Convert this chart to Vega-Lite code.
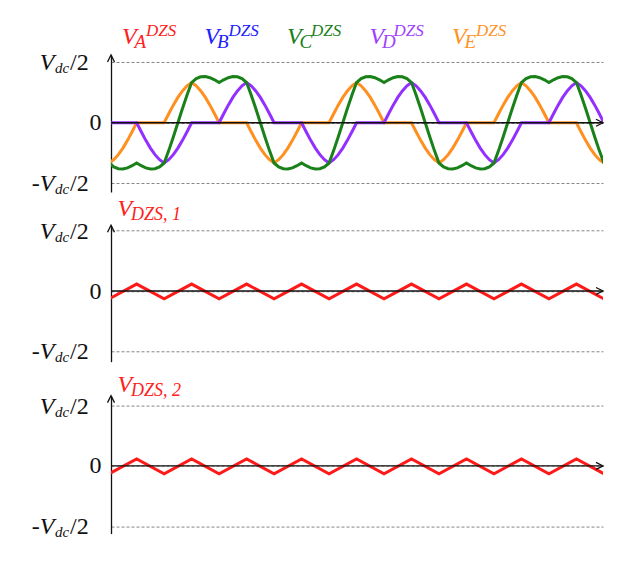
{
  "$schema": "https://vega.github.io/schema/vega-lite/v6.json",
  "background": "white",
  "padding": {"left": 31, "top": 20.7, "right": 5, "bottom": 5},
  "bounds": "flush",
  "spacing": 33.3,
  "config": {"view": {"stroke": null}, "text": {"font": "Liberation Serif"}},
  "datasets": {
    "wave": [
      {"t": -60, "E": -0.665, "D": 0, "C": -0.665},
      {"t": -50, "E": -0.61, "D": 0, "C": -0.73},
      {"t": -40, "E": -0.527, "D": 0, "C": -0.76},
      {"t": -30, "E": -0.419, "D": 0, "C": -0.765},
      {"t": -20, "E": -0.291, "D": 0, "C": -0.745},
      {"t": -10, "E": -0.149, "D": 0, "C": -0.71},
      {"t": 0, "E": 0, "D": 0, "C": -0.665},
      {"t": 10, "E": 0, "D": -0.149, "C": -0.71},
      {"t": 20, "E": 0, "D": -0.291, "C": -0.745},
      {"t": 30, "E": 0, "D": -0.419, "C": -0.765},
      {"t": 40, "E": 0, "D": -0.527, "C": -0.76},
      {"t": 50, "E": 0, "D": -0.61, "C": -0.73},
      {"t": 60, "E": 0, "D": -0.665, "C": -0.665},
      {"t": 70, "E": 0.149, "D": -0.61, "C": -0.46},
      {"t": 80, "E": 0.291, "D": -0.527, "C": -0.235},
      {"t": 90, "E": 0.419, "D": -0.419, "C": 0},
      {"t": 100, "E": 0.527, "D": -0.291, "C": 0.235},
      {"t": 110, "E": 0.61, "D": -0.149, "C": 0.46},
      {"t": 120, "E": 0.665, "D": 0, "C": 0.665},
      {"t": 130, "E": 0.61, "D": 0, "C": 0.73},
      {"t": 140, "E": 0.527, "D": 0, "C": 0.76},
      {"t": 150, "E": 0.419, "D": 0, "C": 0.765},
      {"t": 160, "E": 0.291, "D": 0, "C": 0.745},
      {"t": 170, "E": 0.149, "D": 0, "C": 0.71},
      {"t": 180, "E": 0, "D": 0, "C": 0.665},
      {"t": 190, "E": 0, "D": 0.149, "C": 0.71},
      {"t": 200, "E": 0, "D": 0.291, "C": 0.745},
      {"t": 210, "E": 0, "D": 0.419, "C": 0.765},
      {"t": 220, "E": 0, "D": 0.527, "C": 0.76},
      {"t": 230, "E": 0, "D": 0.61, "C": 0.73},
      {"t": 240, "E": 0, "D": 0.665, "C": 0.665},
      {"t": 250, "E": -0.149, "D": 0.61, "C": 0.46},
      {"t": 260, "E": -0.291, "D": 0.527, "C": 0.235},
      {"t": 270, "E": -0.419, "D": 0.419, "C": 0},
      {"t": 280, "E": -0.527, "D": 0.291, "C": -0.235},
      {"t": 290, "E": -0.61, "D": 0.149, "C": -0.46},
      {"t": 300, "E": -0.665, "D": 0, "C": -0.665},
      {"t": 310, "E": -0.61, "D": 0, "C": -0.73},
      {"t": 320, "E": -0.527, "D": 0, "C": -0.76},
      {"t": 330, "E": -0.419, "D": 0, "C": -0.765},
      {"t": 340, "E": -0.291, "D": 0, "C": -0.745},
      {"t": 350, "E": -0.149, "D": 0, "C": -0.71},
      {"t": 360, "E": 0, "D": 0, "C": -0.665},
      {"t": 370, "E": 0, "D": -0.149, "C": -0.71},
      {"t": 380, "E": 0, "D": -0.291, "C": -0.745},
      {"t": 390, "E": 0, "D": -0.419, "C": -0.765},
      {"t": 400, "E": 0, "D": -0.527, "C": -0.76},
      {"t": 410, "E": 0, "D": -0.61, "C": -0.73},
      {"t": 420, "E": 0, "D": -0.665, "C": -0.665},
      {"t": 430, "E": 0.149, "D": -0.61, "C": -0.46},
      {"t": 440, "E": 0.291, "D": -0.527, "C": -0.235},
      {"t": 450, "E": 0.419, "D": -0.419, "C": 0},
      {"t": 460, "E": 0.527, "D": -0.291, "C": 0.235},
      {"t": 470, "E": 0.61, "D": -0.149, "C": 0.46},
      {"t": 480, "E": 0.665, "D": 0, "C": 0.665},
      {"t": 490, "E": 0.61, "D": 0, "C": 0.73},
      {"t": 500, "E": 0.527, "D": 0, "C": 0.76},
      {"t": 510, "E": 0.419, "D": 0, "C": 0.765},
      {"t": 520, "E": 0.291, "D": 0, "C": 0.745},
      {"t": 530, "E": 0.149, "D": 0, "C": 0.71},
      {"t": 540, "E": 0, "D": 0, "C": 0.665},
      {"t": 550, "E": 0, "D": 0.149, "C": 0.71},
      {"t": 560, "E": 0, "D": 0.291, "C": 0.745},
      {"t": 570, "E": 0, "D": 0.419, "C": 0.765},
      {"t": 580, "E": 0, "D": 0.527, "C": 0.76},
      {"t": 590, "E": 0, "D": 0.61, "C": 0.73},
      {"t": 600, "E": 0, "D": 0.665, "C": 0.665},
      {"t": 610, "E": -0.149, "D": 0.61, "C": 0.46},
      {"t": 620, "E": -0.291, "D": 0.527, "C": 0.235},
      {"t": 630, "E": -0.419, "D": 0.419, "C": 0},
      {"t": 640, "E": -0.527, "D": 0.291, "C": -0.235},
      {"t": 650, "E": -0.61, "D": 0.149, "C": -0.46},
      {"t": 660, "E": -0.665, "D": 0, "C": -0.665},
      {"t": 670, "E": -0.61, "D": 0, "C": -0.73},
      {"t": 680, "E": -0.527, "D": 0, "C": -0.76},
      {"t": 690, "E": -0.419, "D": 0, "C": -0.765},
      {"t": 700, "E": -0.291, "D": 0, "C": -0.745},
      {"t": 710, "E": -0.149, "D": 0, "C": -0.71},
      {"t": 720, "E": 0, "D": 0, "C": -0.665},
      {"t": 730, "E": 0, "D": -0.149, "C": -0.71},
      {"t": 740, "E": 0, "D": -0.291, "C": -0.745},
      {"t": 750, "E": 0, "D": -0.419, "C": -0.765},
      {"t": 760, "E": 0, "D": -0.527, "C": -0.76},
      {"t": 770, "E": 0, "D": -0.61, "C": -0.73},
      {"t": 780, "E": 0, "D": -0.665, "C": -0.665},
      {"t": 790, "E": 0.149, "D": -0.61, "C": -0.46},
      {"t": 800, "E": 0.291, "D": -0.527, "C": -0.235},
      {"t": 810, "E": 0.419, "D": -0.419, "C": 0},
      {"t": 820, "E": 0.527, "D": -0.291, "C": 0.235},
      {"t": 830, "E": 0.61, "D": -0.149, "C": 0.46},
      {"t": 840, "E": 0.665, "D": 0, "C": 0.665},
      {"t": 850, "E": 0.61, "D": 0, "C": 0.73},
      {"t": 860, "E": 0.527, "D": 0, "C": 0.76},
      {"t": 870, "E": 0.419, "D": 0, "C": 0.765},
      {"t": 880, "E": 0.291, "D": 0, "C": 0.745},
      {"t": 890, "E": 0.149, "D": 0, "C": 0.71},
      {"t": 900, "E": 0, "D": 0, "C": 0.665},
      {"t": 910, "E": 0, "D": 0.149, "C": 0.71},
      {"t": 920, "E": 0, "D": 0.291, "C": 0.745},
      {"t": 930, "E": 0, "D": 0.419, "C": 0.765},
      {"t": 940, "E": 0, "D": 0.527, "C": 0.76},
      {"t": 950, "E": 0, "D": 0.61, "C": 0.73},
      {"t": 960, "E": 0, "D": 0.665, "C": 0.665},
      {"t": 970, "E": -0.149, "D": 0.61, "C": 0.46},
      {"t": 980, "E": -0.291, "D": 0.527, "C": 0.235},
      {"t": 990, "E": -0.419, "D": 0.419, "C": 0},
      {"t": 1000, "E": -0.527, "D": 0.291, "C": -0.235},
      {"t": 1010, "E": -0.61, "D": 0.149, "C": -0.46},
      {"t": 1020, "E": -0.665, "D": 0, "C": -0.665}
    ],
    "dzs": [
      {"t": -60, "v": -0.13},
      {"t": 0, "v": 0.115},
      {"t": 60, "v": -0.13},
      {"t": 120, "v": 0.115},
      {"t": 180, "v": -0.13},
      {"t": 240, "v": 0.115},
      {"t": 300, "v": -0.13},
      {"t": 360, "v": 0.115},
      {"t": 420, "v": -0.13},
      {"t": 480, "v": 0.115},
      {"t": 540, "v": -0.13},
      {"t": 600, "v": 0.115},
      {"t": 660, "v": -0.13},
      {"t": 720, "v": 0.115},
      {"t": 780, "v": -0.13},
      {"t": 840, "v": 0.115},
      {"t": 900, "v": -0.13},
      {"t": 960, "v": 0.115},
      {"t": 1020, "v": -0.13}
    ],
    "ticks": [
      {"v": 1, "lead": "V"},
      {"v": -1, "lead": "-V"}
    ],
    "phases": [
      {"ph": "A"}, {"ph": "B"}, {"ph": "C"}, {"ph": "D"}, {"ph": "E"}
    ]
  },
  "vconcat": [
    {
      "width": 352,
      "height": 1,
      "data": {"name": "phases"},
      "encoding": {
        "x": {"field": "ph", "type": "nominal", "scale": {"type": "point", "range": [11, 341], "padding": 0}, "axis": null},
        "y": {"datum": 0, "scale": {"domain": [0, 1]}, "axis": null},
        "color": {"field": "ph", "type": "nominal", "scale": {"domain": ["A", "B", "C", "D", "E"], "range": ["#ff2020", "#2020ff", "#1a801a", "#a040ff", "#ff9226"]}, "legend": null}
      },
      "layer": [
        {"mark": {"type": "text", "align": "left", "baseline": "alphabetic", "dy": 22.6, "fontSize": 24, "fontStyle": "italic", "text": "V"}},
        {"mark": {"type": "text", "align": "left", "baseline": "alphabetic", "dx": 12.5, "dy": 26.6, "fontSize": 19, "fontStyle": "italic"}, "encoding": {"text": {"field": "ph"}}},
        {"mark": {"type": "text", "align": "left", "baseline": "alphabetic", "dx": 24, "dy": 14, "fontSize": 17, "fontStyle": "italic", "text": "DZS"}}
      ]
    },
    {
      "width": 492,
      "height": 137,
      "layer": [
        {
          "data": {"name": "wave"},
          "mark": {"type": "line", "color": "#ff8f1f", "strokeWidth": 3, "clip": true},
          "encoding": {
            "x": {"field": "t", "type": "quantitative", "scale": {"domain": [-56, 1018], "nice": false, "zero": false}, "axis": null},
            "y": {
              "field": "E", "type": "quantitative",
              "scale": {"domain": [-1.144, 1.12], "nice": false, "zero": false},
              "axis": {
                "values": [-1, 0, 1], "title": null, "grid": true, "gridColor": "#666", "gridDash": [3, 2], "gridWidth": 0.8,
                "ticks": false, "tickSize": 0, "domainColor": "#111", "domainWidth": 1.3,
                "labelExpr": "datum.value == 0 ? '0' : ''", "labelFont": "Liberation Serif", "labelFontSize": 24,
                "labelColor": "#111", "labelPadding": 10
              }
            }
          }
        },
        {
          "data": {"name": "wave"},
          "mark": {"type": "line", "color": "#9430ff", "strokeWidth": 3, "clip": true},
          "encoding": {
            "x": {"field": "t", "type": "quantitative"},
            "y": {"field": "D", "type": "quantitative"}
          }
        },
        {
          "data": {"name": "wave"},
          "mark": {"type": "line", "color": "#1a801a", "strokeWidth": 3, "clip": true},
          "encoding": {
            "x": {"field": "t", "type": "quantitative"},
            "y": {"field": "C", "type": "quantitative"}
          }
        },
        {
          "data": {"values": [{}]},
          "mark": {"type": "rule", "color": "#111", "strokeWidth": 1.3},
          "encoding": {"y": {"datum": 0}}
        },
        {
          "data": {"values": [{}]},
          "mark": {"type": "point", "shape": "M-0.7,1.4L0,0L0.7,1.4", "size": 100, "filled": false, "stroke": "#111", "strokeWidth": 1.3, "opacity": 1},
          "encoding": {"x": {"datum": -56}, "y": {"datum": 1.12}}
        },
        {
          "data": {"values": [{}]},
          "mark": {"type": "point", "shape": "M-1.4,-0.7L0,0L-1.4,0.7", "size": 100, "filled": false, "stroke": "#111", "strokeWidth": 1.3, "opacity": 1},
          "encoding": {"x": {"datum": 1018}, "y": {"datum": 0}}
        },
        {
          "data": {"name": "ticks"},
          "mark": {"type": "text", "align": "right", "baseline": "alphabetic", "dx": -56.7, "dy": 8, "fontSize": 24, "fontStyle": "italic", "color": "#111"},
          "encoding": {"x": {"datum": -56}, "y": {"field": "v", "type": "quantitative"}, "text": {"field": "lead"}}
        },
        {
          "data": {"name": "ticks"},
          "mark": {"type": "text", "align": "left", "baseline": "alphabetic", "dx": -56, "dy": 11, "fontSize": 15, "fontStyle": "italic", "color": "#111", "text": "dc"},
          "encoding": {"x": {"datum": -56}, "y": {"field": "v", "type": "quantitative"}}
        },
        {
          "data": {"name": "ticks"},
          "mark": {"type": "text", "align": "left", "baseline": "alphabetic", "dx": -41, "dy": 8, "fontSize": 24, "color": "#111", "text": "/2"},
          "encoding": {"x": {"datum": -56}, "y": {"field": "v", "type": "quantitative"}}
        }
      ]
    },
    {
      "width": 492,
      "height": 136.4,
      "layer": [
        {
          "data": {"name": "dzs"},
          "mark": {"type": "line", "color": "#ff1a1a", "strokeWidth": 3, "clip": true},
          "encoding": {
            "x": {"field": "t", "type": "quantitative", "scale": {"domain": [-56, 1018], "nice": false, "zero": false}, "axis": null},
            "y": {
              "field": "v", "type": "quantitative",
              "scale": {"domain": [-1.172, 1.0896], "nice": false, "zero": false},
              "axis": {
                "values": [-1, 0, 1], "title": null, "grid": true, "gridColor": "#666", "gridDash": [3, 2], "gridWidth": 0.8,
                "ticks": false, "tickSize": 0, "domainColor": "#111", "domainWidth": 1.3,
                "labelExpr": "datum.value == 0 ? '0' : ''", "labelFont": "Liberation Serif", "labelFontSize": 24,
                "labelColor": "#111", "labelPadding": 10
              }
            }
          }
        },
        {
          "data": {"values": [{}]},
          "mark": {"type": "rule", "color": "#111", "strokeWidth": 1.3},
          "encoding": {"y": {"datum": 0}}
        },
        {
          "data": {"values": [{}]},
          "mark": {"type": "point", "shape": "M-0.7,1.4L0,0L0.7,1.4", "size": 100, "filled": false, "stroke": "#111", "strokeWidth": 1.3, "opacity": 1},
          "encoding": {"x": {"datum": -56}, "y": {"datum": 1.0896}}
        },
        {
          "data": {"values": [{}]},
          "mark": {"type": "point", "shape": "M-1.4,-0.7L0,0L-1.4,0.7", "size": 100, "filled": false, "stroke": "#111", "strokeWidth": 1.3, "opacity": 1},
          "encoding": {"x": {"datum": 1018}, "y": {"datum": 0}}
        },
        {
          "data": {"name": "ticks"},
          "mark": {"type": "text", "align": "right", "baseline": "alphabetic", "dx": -56.7, "dy": 8, "fontSize": 24, "fontStyle": "italic", "color": "#111"},
          "encoding": {"x": {"datum": -56}, "y": {"field": "v", "type": "quantitative"}, "text": {"field": "lead"}}
        },
        {
          "data": {"name": "ticks"},
          "mark": {"type": "text", "align": "left", "baseline": "alphabetic", "dx": -56, "dy": 11, "fontSize": 15, "fontStyle": "italic", "color": "#111", "text": "dc"},
          "encoding": {"x": {"datum": -56}, "y": {"field": "v", "type": "quantitative"}}
        },
        {
          "data": {"name": "ticks"},
          "mark": {"type": "text", "align": "left", "baseline": "alphabetic", "dx": -41, "dy": 8, "fontSize": 24, "color": "#111", "text": "/2"},
          "encoding": {"x": {"datum": -56}, "y": {"field": "v", "type": "quantitative"}}
        },
        {
          "data": {"values": [{}]},
          "mark": {"type": "text", "align": "left", "baseline": "alphabetic", "dx": 6.6, "fontSize": 24, "fontStyle": "italic", "color": "#ff2020", "text": "V"},
          "encoding": {"x": {"datum": -56}, "y": {"datum": 1.244}}
        },
        {
          "data": {"values": [{}]},
          "mark": {"type": "text", "align": "left", "baseline": "alphabetic", "dx": 20, "dy": 4.5, "fontSize": 18, "fontStyle": "italic", "color": "#ff2020", "text": "DZS, 1"},
          "encoding": {"x": {"datum": -56}, "y": {"datum": 1.244}}
        }
      ]
    },
    {
      "width": 492,
      "height": 138,
      "layer": [
        {
          "data": {"name": "dzs"},
          "mark": {"type": "line", "color": "#ff1a1a", "strokeWidth": 3, "clip": true},
          "encoding": {
            "x": {"field": "t", "type": "quantitative", "scale": {"domain": [-56, 1018], "nice": false, "zero": false}, "axis": null},
            "y": {
              "field": "v", "type": "quantitative",
              "scale": {"domain": [-1.121, 1.166], "nice": false, "zero": false},
              "axis": {
                "values": [-1, 0, 1], "title": null, "grid": true, "gridColor": "#666", "gridDash": [3, 2], "gridWidth": 0.8,
                "ticks": false, "tickSize": 0, "domainColor": "#111", "domainWidth": 1.3,
                "labelExpr": "datum.value == 0 ? '0' : ''", "labelFont": "Liberation Serif", "labelFontSize": 24,
                "labelColor": "#111", "labelPadding": 10
              }
            }
          }
        },
        {
          "data": {"values": [{}]},
          "mark": {"type": "rule", "color": "#111", "strokeWidth": 1.3},
          "encoding": {"y": {"datum": 0}}
        },
        {
          "data": {"values": [{}]},
          "mark": {"type": "point", "shape": "M-0.7,1.4L0,0L0.7,1.4", "size": 100, "filled": false, "stroke": "#111", "strokeWidth": 1.3, "opacity": 1},
          "encoding": {"x": {"datum": -56}, "y": {"datum": 1.166}}
        },
        {
          "data": {"values": [{}]},
          "mark": {"type": "point", "shape": "M-1.4,-0.7L0,0L-1.4,0.7", "size": 100, "filled": false, "stroke": "#111", "strokeWidth": 1.3, "opacity": 1},
          "encoding": {"x": {"datum": 1018}, "y": {"datum": 0}}
        },
        {
          "data": {"name": "ticks"},
          "mark": {"type": "text", "align": "right", "baseline": "alphabetic", "dx": -56.7, "dy": 8, "fontSize": 24, "fontStyle": "italic", "color": "#111"},
          "encoding": {"x": {"datum": -56}, "y": {"field": "v", "type": "quantitative"}, "text": {"field": "lead"}}
        },
        {
          "data": {"name": "ticks"},
          "mark": {"type": "text", "align": "left", "baseline": "alphabetic", "dx": -56, "dy": 11, "fontSize": 15, "fontStyle": "italic", "color": "#111", "text": "dc"},
          "encoding": {"x": {"datum": -56}, "y": {"field": "v", "type": "quantitative"}}
        },
        {
          "data": {"name": "ticks"},
          "mark": {"type": "text", "align": "left", "baseline": "alphabetic", "dx": -41, "dy": 8, "fontSize": 24, "color": "#111", "text": "/2"},
          "encoding": {"x": {"datum": -56}, "y": {"field": "v", "type": "quantitative"}}
        },
        {
          "data": {"values": [{}]},
          "mark": {"type": "text", "align": "left", "baseline": "alphabetic", "dx": 6.6, "fontSize": 24, "fontStyle": "italic", "color": "#ff2020", "text": "V"},
          "encoding": {"x": {"datum": -56}, "y": {"datum": 1.22}}
        },
        {
          "data": {"values": [{}]},
          "mark": {"type": "text", "align": "left", "baseline": "alphabetic", "dx": 20, "dy": 4, "fontSize": 18, "fontStyle": "italic", "color": "#ff2020", "text": "DZS, 2"},
          "encoding": {"x": {"datum": -56}, "y": {"datum": 1.22}}
        }
      ]
    }
  ]
}
